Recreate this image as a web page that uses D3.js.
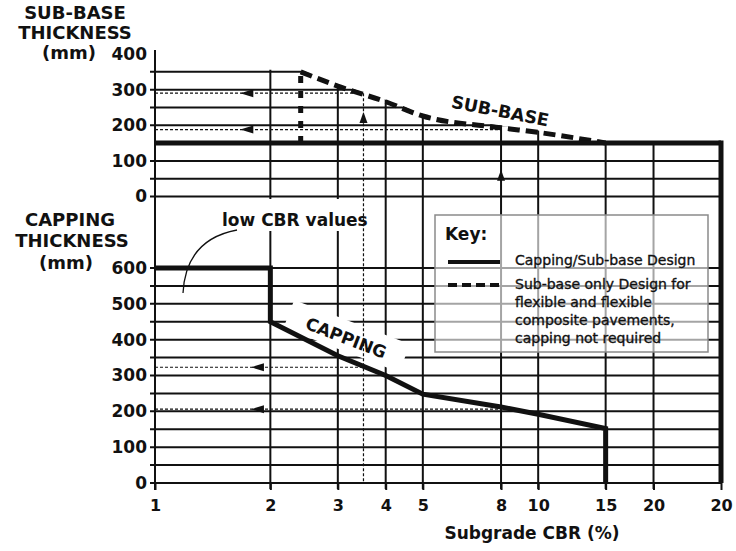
<!DOCTYPE html>
<html><head><meta charset="utf-8">
<script src="https://cdn.jsdelivr.net/npm/d3@7"></script>
<style>
body{margin:0;background:#fff;}
svg{display:block;}
text{font-family:"DejaVu Sans",sans-serif;fill:#111;}
</style></head><body>
<svg id="chart" width="736" height="551"></svg>
<script>
// ---------- data ----------
const xTicks = [1, 2, 3, 4, 5, 8, 10, 15, 20, 30];
const xTickLabels = ["1", "2", "3", "4", "5", "8", "10", "15", "20", "20"];
const gridCBR = [2, 3, 4, 5, 8, 10, 15, 20];
const subbaseTicks = [0, 100, 200, 300, 400];
const subbaseGrid = [0, 50, 100, 200, 250, 300, 350];
const cappingTicks = [0, 100, 200, 300, 400, 500, 600];
const cappingGrid = [0, 50, 100, 150, 200, 250, 300, 350, 400, 450, 500, 550, 600];
// Sub-base only design (dashed)
const subbaseOnly = [[2.4, 350], [3, 310], [4, 266], [5, 226], [8, 193], [10, 180], [15, 150]];
const subbaseOnlyStep = [[2.4, 150], [2.4, 350]];
const subbaseOnlyTop = [[1, 350], [2.4, 350]];
// Capping / sub-base design (solid)
const subbaseDesign = [[1, 150], [30, 150]];
const cappingDesign = [[1, 600], [2, 600], [2, 450], [3, 355], [4, 300], [5, 248], [8, 212], [10, 192], [15, 152], [15, 0]];
// worked examples (dotted)
const exampleCBR = [3.5, 8];
const exampleSubbase = [290, 188];
const exampleCapping = [323, 206];

// ---------- layout ----------
const svg = d3.select("#chart");
const xs = d3.scaleLog().domain([1, 30]).range([155, 721]);
const yt = d3.scaleLinear().domain([0, 400]).range([196.5, 54]);
const yb = d3.scaleLinear().domain([0, 600]).range([483, 268]);
const X0 = xs(1), X1 = xs(30);

// clip for top panel grid
const boundary = subbaseOnlyTop.concat(subbaseOnly.slice(1)).concat([[30, 150]]);
const bp = boundary.map(d => [xs(d[0]), yt(d[1]) - 2]);
let clipD = `M${X0 - 6},${yt(0) + 2}L${X0 - 6},${bp[0][1]}L` + bp.map(p => p.join(",")).join("L") +
  `L${X1 + 3},${bp[bp.length - 1][1]}L${X1 + 3},${yt(0) + 2}Z`;
svg.append("defs").append("clipPath").attr("id", "topclip").append("path").attr("d", clipD);

const g = svg.append("g");

// top panel grid
const tg = g.append("g").attr("clip-path", "url(#topclip)");
tg.selectAll("line.h").data(subbaseGrid).join("line")
  .attr("x1", X0 - 5).attr("x2", X1).attr("y1", d => yt(d)).attr("y2", d => yt(d))
  .attr("stroke", "#111").attr("stroke-width", 2);
tg.selectAll("line.v").data(gridCBR).join("line")
  .attr("x1", d => xs(d)).attr("x2", d => xs(d)).attr("y1", yt(400)).attr("y2", yt(0))
  .attr("stroke", "#111").attr("stroke-width", 2);

// vertical lines through gap and bottom panel
g.selectAll("line.vb").data(gridCBR).join("line")
  .attr("x1", d => xs(d)).attr("x2", d => xs(d)).attr("y1", yt(0)).attr("y2", yb(0) + 6)
  .attr("stroke", "#111").attr("stroke-width", 2);

// bottom panel grid
g.selectAll("line.hb").data(cappingGrid).join("line")
  .attr("x1", X0 - 5).attr("x2", X1).attr("y1", d => yb(d)).attr("y2", d => yb(d))
  .attr("stroke", "#111").attr("stroke-width", 2);

// y axis line
g.append("line").attr("x1", X0).attr("x2", X0).attr("y1", 50).attr("y2", yb(0) + 7)
  .attr("stroke", "#111").attr("stroke-width", 2);

// axes labels via d3 axes
const axT = g.append("g").attr("transform", `translate(${X0 - 6},0)`)
  .call(d3.axisLeft(yt).tickValues(subbaseTicks).tickSize(0).tickPadding(2));
const axB = g.append("g").attr("transform", `translate(${X0 - 6},0)`)
  .call(d3.axisLeft(yb).tickValues(cappingTicks).tickSize(0).tickPadding(2));
const axX = g.append("g").attr("transform", `translate(0,${yb(0)})`)
  .call(d3.axisBottom(xs).tickValues(xTicks).tickFormat((d, i) => xTickLabels[i]).tickSize(7).tickPadding(10));
[axT, axB].forEach(a => {
  a.select(".domain").remove();
  a.selectAll("text").attr("font-family", "DejaVu Sans").attr("font-weight", "bold").attr("font-size", 17).attr("fill", "#111");
});
axX.select(".domain").remove();
axX.selectAll("line").attr("stroke", "#111").attr("stroke-width", 2);
axX.selectAll("text").attr("font-family", "DejaVu Sans").attr("font-weight", "bold").attr("font-size", 16).attr("fill", "#111");

// white background behind "low CBR values"
g.append("rect").attr("x", 214).attr("y", 199).attr("width", 162).attr("height", 32).attr("fill", "#fff");
g.append("text").attr("x", 222).attr("y", 226).attr("font-weight", "bold").attr("font-size", 17).text("low CBR values");
g.append("path").attr("d", "M237,230 C205,236 185,255 183,293").attr("fill", "none").attr("stroke", "#111").attr("stroke-width", 1.3);

// CAPPING label with white backing
const capG = g.append("g").attr("transform", "translate(346,338) rotate(21)");
capG.append("rect").attr("x", -62).attr("y", -17).attr("width", 124).attr("height", 30).attr("fill", "#fff");
capG.append("text").attr("text-anchor", "middle").attr("y", 6).attr("font-weight", "bold").attr("font-size", 17).text("CAPPING");

// SUB-BASE label
g.append("text").attr("transform", "translate(499,117) rotate(11)").attr("text-anchor", "middle")
  .attr("font-weight", "bold").attr("font-size", 17.5).text("SUB-BASE");

// worked examples (dotted)
const dot = {stroke: "#111", "stroke-width": 1.2, "stroke-dasharray": "3,2", fill: "none"};
function applyDot(sel) { Object.entries(dot).forEach(([k, v]) => sel.attr(k, v)); return sel; }
applyDot(g.append("line").attr("x1", xs(exampleCBR[0])).attr("x2", xs(exampleCBR[0]))
  .attr("y1", yt(exampleSubbase[0])).attr("y2", yb(0)));
exampleCBR.forEach((c, i) => {
  applyDot(g.append("line").attr("x1", X0).attr("x2", xs(c)).attr("y1", yt(exampleSubbase[i])).attr("y2", yt(exampleSubbase[i])));
  applyDot(g.append("line").attr("x1", X0).attr("x2", xs(c)).attr("y1", yb(exampleCapping[i])).attr("y2", yb(exampleCapping[i])));
  const ax = xs(1.67), bx = xs(1.78);
  g.append("path").attr("d", `M${ax},${yt(exampleSubbase[i])}L${ax + 13},${yt(exampleSubbase[i]) - 4}L${ax + 13},${yt(exampleSubbase[i]) + 4}Z`).attr("fill", "#111");
  g.append("path").attr("d", `M${bx},${yb(exampleCapping[i])}L${bx + 13},${yb(exampleCapping[i]) - 4}L${bx + 13},${yb(exampleCapping[i]) + 4}Z`).attr("fill", "#111");
});
const upVals = [237, 75];
exampleCBR.forEach((c, i) => {
  const x = xs(c), y = yt(upVals[i]);
  g.append("path").attr("d", `M${x},${y}L${x - 4},${y + 11}L${x + 4},${y + 11}Z`).attr("fill", "#111");
});

// design lines
const line = (ys) => d3.line().x(d => xs(d[0])).y(d => ys(d[1]));
g.append("path").datum(subbaseOnly).attr("d", line(yt).curve(d3.curveMonotoneX))
  .attr("fill", "none").attr("stroke", "#111").attr("stroke-width", 5).attr("stroke-dasharray", "12,6");
g.append("path").datum(subbaseOnlyStep).attr("d", line(yt))
  .attr("fill", "none").attr("stroke", "#111").attr("stroke-width", 5).attr("stroke-dasharray", "7,8");
g.append("path").datum(subbaseDesign).attr("d", line(yt))
  .attr("fill", "none").attr("stroke", "#111").attr("stroke-width", 5);
g.append("path").datum(cappingDesign).attr("d", line(yb))
  .attr("fill", "none").attr("stroke", "#111").attr("stroke-width", 5).attr("stroke-linejoin", "miter");
// right-hand boundary at top of CBR range
g.append("line").attr("x1", X1).attr("x2", X1).attr("y1", yt(150) - 2.5).attr("y2", yb(0))
  .attr("stroke", "#111").attr("stroke-width", 5);

// legend
const lg = g.append("g");
lg.append("rect").attr("x", 435).attr("y", 215).attr("width", 273).attr("height", 137)
  .attr("fill", "#fff").attr("fill-opacity", 0.62).attr("stroke", "#8a8a8a").attr("stroke-width", 1.5);
lg.append("text").attr("x", 445).attr("y", 240).attr("font-weight", "bold").attr("font-size", 17).text("Key:");
lg.append("line").attr("x1", 448).attr("x2", 500).attr("y1", 262).attr("y2", 262).attr("stroke", "#111").attr("stroke-width", 4);
lg.append("line").attr("x1", 448).attr("x2", 500).attr("y1", 285).attr("y2", 285).attr("stroke", "#111").attr("stroke-width", 4).attr("stroke-dasharray", "9,5");
const legTxt = [["Capping/Sub-base Design", 265], ["Sub-base only Design for", 289], ["flexible and flexible", 307], ["composite pavements,", 325], ["capping not required", 343]];
legTxt.forEach(([t, y]) => lg.append("text").attr("x", 515).attr("y", y).attr("font-size", 14)
  .attr("stroke", "#111").attr("stroke-width", 0.35).text(t));

// axis titles
const titles = [["SUB-BASE", 75, 19], ["THICKNESS", 75, 39], ["(mm)", 69, 59],
  ["CAPPING", 70, 226], ["THICKNESS", 72, 247], ["(mm)", 66, 269]];
titles.forEach(([t, x, y]) => g.append("text").attr("x", x).attr("y", y).attr("text-anchor", "middle")
  .attr("font-weight", "bold").attr("font-size", 18).text(t));
g.append("text").attr("x", 532).attr("y", 539).attr("text-anchor", "middle")
  .attr("font-weight", "bold").attr("font-size", 17).text("Subgrade CBR (%)");
</script>
</body></html>
